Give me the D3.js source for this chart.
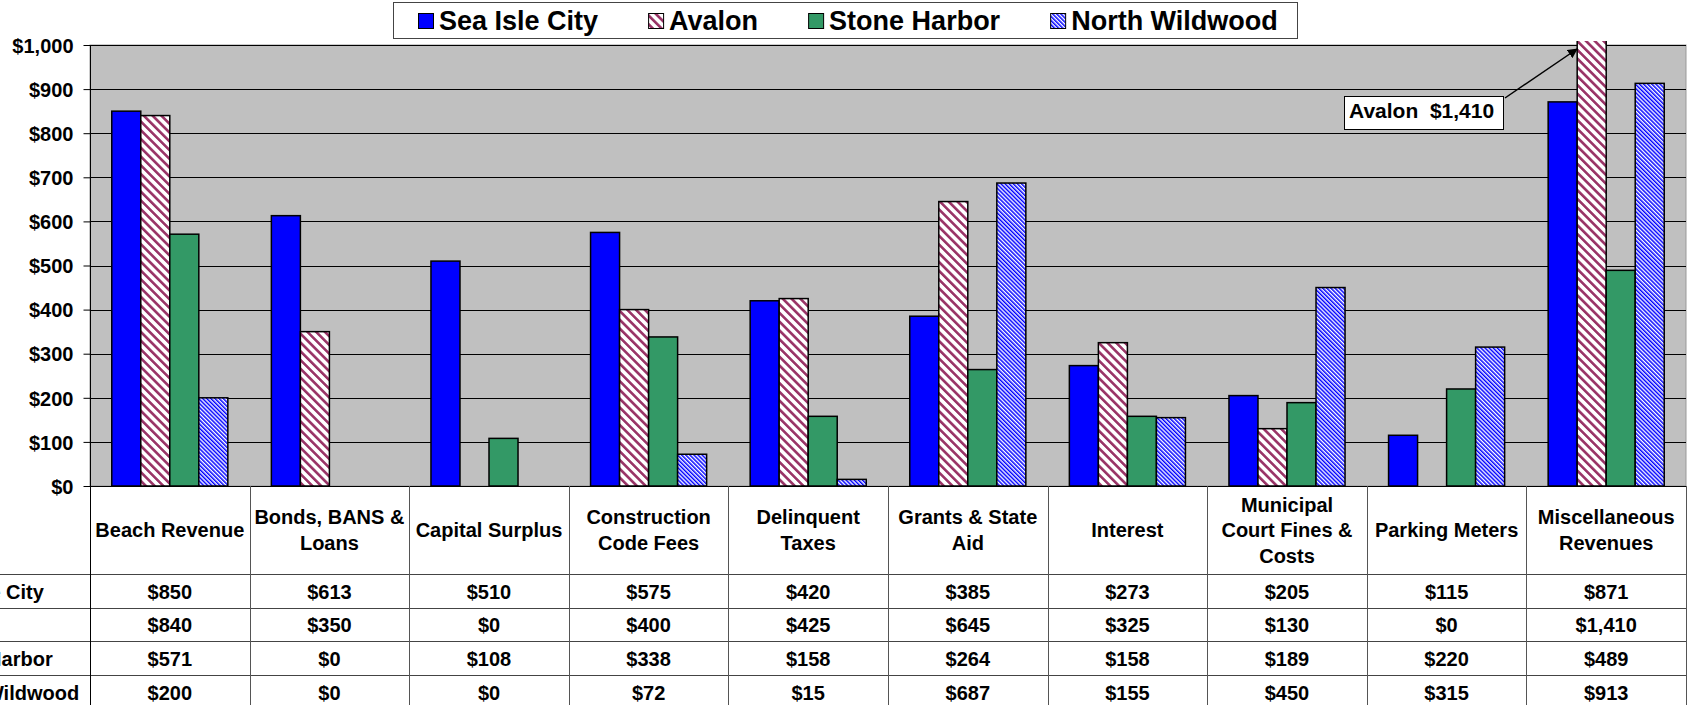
<!DOCTYPE html>
<html>
<head>
<meta charset="utf-8">
<script src="https://cdn.jsdelivr.net/npm/d3@7"></script>
<style>
  html, body { margin: 0; padding: 0; background: #fff; overflow: hidden; }
  svg { display: block; font-family: "Liberation Sans", Arial, sans-serif; font-weight: bold; }
</style>
</head>
<body>
<svg id="chart" width="1688" height="705"></svg>
<script>
// categories (header lines of the data table)
var categories = [
    ['Beach Revenue'],
    ['Bonds, BANS &', 'Loans'],
    ['Capital Surplus'],
    ['Construction', 'Code Fees'],
    ['Delinquent', 'Taxes'],
    ['Grants & State', 'Aid'],
    ['Interest'],
    ['Municipal', 'Court Fines &', 'Costs'],
    ['Parking Meters'],
    ['Miscellaneous', 'Revenues']
];
var seriesNames = ['Sea Isle City', 'Avalon', 'Stone Harbor', 'North Wildwood'];
var seaIsle     = [850, 613, 510, 575, 420, 385, 273, 205, 115, 871];
var avalon      = [840, 350,   0, 400, 425, 645, 325, 130,   0, 1410];
var stoneHarbor = [571,   0, 108, 338, 158, 264, 158, 189, 220, 489];
var northWild   = [200,   0,   0,  72,  15, 687, 155, 450, 315, 913];
var yTicks = [0, 100, 200, 300, 400, 500, 600, 700, 800, 900, 1000];
var callout = 'Avalon  $1,410';

(function () {
    var values = [seaIsle, avalon, stoneHarbor, northWild];
    var fills = ['#0000ff', 'url(#patAvalon)', '#339966', 'url(#patNW)'];

    var svg = d3.select('#chart');
    var plot = { left: 90, right: 1686, top: 45, bottom: 486 };
    var rowY = [486, 574, 608, 641, 675, 709];

    var defs = svg.append('defs');
    // Avalon: maroon diagonal stripes on white
    var p1 = defs.append('pattern').attr('id', 'patAvalon')
        .attr('patternUnits', 'userSpaceOnUse').attr('width', 6.2).attr('height', 10)
        .attr('patternTransform', 'rotate(-45)');
    p1.append('rect').attr('width', 6.2).attr('height', 10).attr('fill', '#fff');
    p1.append('rect').attr('width', 2.6).attr('height', 10).attr('fill', '#993366');
    // North Wildwood: fine blue diagonal stripes on white
    var p2 = defs.append('pattern').attr('id', 'patNW')
        .attr('patternUnits', 'userSpaceOnUse').attr('width', 2.9).attr('height', 10)
        .attr('patternTransform', 'rotate(-45)');
    p2.append('rect').attr('width', 2.9).attr('height', 10).attr('fill', '#fff');
    p2.append('rect').attr('width', 1.5).attr('height', 10).attr('fill', '#0000ff');

    defs.append('clipPath').attr('id', 'plotClip').append('rect')
        .attr('x', plot.left).attr('y', plot.top - 4)
        .attr('width', plot.right - plot.left).attr('height', plot.bottom - plot.top + 4);

    defs.append('marker').attr('id', 'arrow')
        .attr('viewBox', '0 0 10 10').attr('refX', 9).attr('refY', 5)
        .attr('markerWidth', 10).attr('markerHeight', 10)
        .attr('markerUnits', 'userSpaceOnUse').attr('orient', 'auto')
        .append('path').attr('d', 'M0,0 L10,5 L0,10 z').attr('fill', '#000');

    var x0 = d3.scaleBand().domain(d3.range(categories.length))
        .range([plot.left, plot.right]).padding(0);
    var bw = x0.bandwidth();
    // gap width 150% -> bar = band / 5.5
    var x1 = d3.scaleBand().domain(d3.range(seriesNames.length))
        .range([bw * 0.75 / 5.5, bw * 4.75 / 5.5]).padding(0);
    var y = d3.scaleLinear().domain([0, 1000]).range([plot.bottom, plot.top]);

    // plot area
    svg.append('rect')
        .attr('x', plot.left).attr('y', plot.top)
        .attr('width', plot.right - plot.left).attr('height', plot.bottom - plot.top)
        .attr('fill', '#c0c0c0').attr('stroke', '#999').attr('stroke-width', 1);

    // gridlines
    svg.append('g').selectAll('line').data(yTicks.slice(1)).join('line')
        .attr('x1', plot.left).attr('x2', plot.right)
        .attr('y1', function (d) { return Math.round(y(d)) + 0.5; })
        .attr('y2', function (d) { return Math.round(y(d)) + 0.5; })
        .attr('stroke', '#000').attr('stroke-width', 1);

    // y axis
    var yAxis = svg.append('g').attr('transform', 'translate(' + (plot.left + 0.5) + ',0)')
        .call(d3.axisLeft(y).tickValues(yTicks).tickSize(7).tickPadding(10)
            .tickFormat(function (d) { return '$' + d3.format(',')(d); }));
    yAxis.select('.domain').remove();
    yAxis.selectAll('line').attr('stroke', '#000');
    yAxis.selectAll('text').attr('font-size', 20).attr('font-weight', 'bold')
        .attr('font-family', '"Liberation Sans", Arial, sans-serif').attr('fill', '#000')
        .attr('dy', '0.36em');
    svg.append('line').attr('x1', plot.left + 0.5).attr('x2', plot.left + 0.5)
        .attr('y1', plot.top).attr('y2', 705).attr('stroke', '#000');

    // bars (zero values draw nothing)
    var bars = [];
    categories.forEach(function (c, ci) {
        values.forEach(function (vals, si) {
            if (vals[ci] > 0) bars.push({ ci: ci, si: si, v: vals[ci] });
        });
    });
    svg.append('g').attr('clip-path', 'url(#plotClip)')
        .selectAll('rect').data(bars).join('rect')
        .attr('x', function (d) { return x0(d.ci) + x1(d.si); })
        .attr('width', x1.bandwidth())
        .attr('y', function (d) { return y(d.v); })
        .attr('height', function (d) { return plot.bottom - y(d.v); })
        .attr('fill', function (d) { return fills[d.si]; })
        .attr('stroke', '#000').attr('stroke-width', 1.5);

    // data table
    var tbl = svg.append('g');
    rowY.slice(1, 5).forEach(function (ry) {
        tbl.append('line').attr('x1', 0).attr('x2', plot.right)
            .attr('y1', ry + 0.5).attr('y2', ry + 0.5).attr('stroke', '#444');
    });
    tbl.append('line').attr('x1', plot.left).attr('x2', plot.right)
        .attr('y1', rowY[0] + 0.5).attr('y2', rowY[0] + 0.5).attr('stroke', '#000');
    d3.range(categories.length + 1).forEach(function (i) {
        var xx = i < categories.length ? x0(i) : plot.right;
        tbl.append('line').attr('x1', Math.round(xx) + 0.5).attr('x2', Math.round(xx) + 0.5)
            .attr('y1', rowY[0]).attr('y2', 705).attr('stroke', i === 0 ? '#000' : '#555');
    });

    categories.forEach(function (lines, ci) {
        var cx = x0(ci) + bw / 2;
        var mid = (rowY[0] + rowY[1]) / 2 + 7;
        lines.forEach(function (ln, li) {
            tbl.append('text').attr('x', cx)
                .attr('y', mid + (li - (lines.length - 1) / 2) * 25.5)
                .attr('text-anchor', 'middle').attr('font-size', 20).text(ln);
        });
        values.forEach(function (vals, si) {
            tbl.append('text').attr('x', cx)
                .attr('y', (rowY[si + 1] + rowY[si + 2]) / 2 + 7.5)
                .attr('text-anchor', 'middle').attr('font-size', 20)
                .text('$' + d3.format(',')(vals[ci]));
        });
    });
    // row labels (partly cut off at the left edge, as in the original)
    seriesNames.forEach(function (name, si) {
        tbl.append('text').attr('x', -74)
            .attr('y', (rowY[si + 1] + rowY[si + 2]) / 2 + 7.5)
            .attr('font-size', 20).text(name);
    });

    // callout
    svg.append('line').attr('x1', 1505).attr('y1', 98).attr('x2', 1577).attr('y2', 49)
        .attr('stroke', '#000').attr('stroke-width', 1.5).attr('marker-end', 'url(#arrow)');
    svg.append('rect').attr('x', 1344.5).attr('y', 96.5).attr('width', 159).attr('height', 33)
        .attr('fill', '#fff').attr('stroke', '#000');
    svg.append('text').attr('x', 1349).attr('y', 118).attr('font-size', 21)
        .style('white-space', 'pre').text(callout);

    // legend
    var lg = svg.append('g');
    lg.append('rect').attr('x', 393.5).attr('y', 2.5).attr('width', 904).attr('height', 36)
        .attr('fill', '#fff').attr('stroke', '#444');
    var lx = 418;
    seriesNames.forEach(function (name, si) {
        lg.append('rect').attr('x', lx + 0.5).attr('y', 13.5).attr('width', 15).attr('height', 15)
            .attr('fill', fills[si]).attr('stroke', '#000');
        var t = lg.append('text').attr('x', lx + 21).attr('y', 30).attr('font-size', 27).text(name);
        lx = lx + 21 + t.node().getComputedTextLength() + 50;
    });
})();
</script>
</body>
</html>
